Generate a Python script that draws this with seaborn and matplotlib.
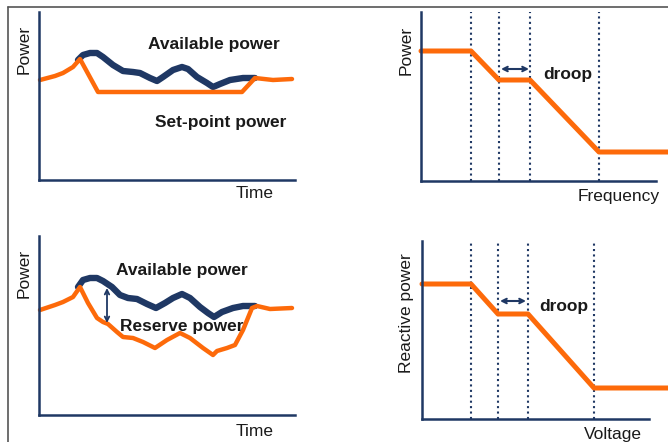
import matplotlib
matplotlib.use("Agg")
import matplotlib.pyplot as plt
from matplotlib.lines import Line2D
import seaborn as sns

sns.set_style("white")
plt.rcParams["font.family"] = ["Liberation Sans", "DejaVu Sans"]

NAVY = "#1f3864"
ORANGE = "#fd6a0a"
TEXT = "#1a1a1a"

W, H = 668, 442

# ---- data ----
# top-left: available vs set-point power over time
t_set1 = [1, 16, 24, 34, 41, 59, 203, 216, 234, 253]
p_set1 = [100, 104, 107, 113, 121, 88, 88, 102, 100, 101]
t_avail1 = [39, 44, 51, 58, 64, 74, 84, 94, 101, 111, 118, 124, 134, 143, 149,
            158, 168, 174, 181, 191, 204, 216]
p_avail1 = [120, 125, 127, 127, 123, 115, 109, 108, 107, 102, 99, 103, 110, 113, 111,
            103, 97, 93, 96, 100, 102, 102]

# bottom-left: available vs reserve-reduced power
t_res = [1, 16, 24, 34, 41, 49, 58, 64, 69, 78, 84, 94, 104, 116, 128, 141, 151,
         164, 174, 178, 188, 196, 204, 213, 218, 231, 253]
p_res = [105, 110, 113, 118, 128, 112, 97, 93, 91, 83, 78, 77, 73, 67, 75, 82, 77,
         67, 60, 64, 67, 70, 85, 107, 109, 106, 107]
t_avail2 = [39, 44, 51, 58, 64, 73, 81, 89, 98, 108, 117, 126, 134, 143, 151, 161,
            169, 175, 183, 194, 204, 216]
p_avail2 = [128, 135, 137, 137, 134, 128, 120, 117, 116, 111, 107, 112, 117, 121, 117, 108,
            102, 98, 103, 107, 109, 109]

# top-right: power vs frequency droop
freq = [0, 50, 78, 109, 178, 247]
power_f = [130, 130, 101, 101, 29, 29]
freq_marks = [50, 78, 109, 178]

# bottom-right: reactive power vs voltage droop
volt = [0, 49, 76, 106, 172, 246]
q_v = [135, 135, 105, 105, 31, 31]
volt_marks = [49, 76, 106, 172]

fig = plt.figure(figsize=(W / 100, H / 100), dpi=100)


def add_ax(left, right, top, bottom):
    ax = fig.add_axes([left / W, 1 - bottom / H, (right - left) / W, (bottom - top) / H])
    ax.patch.set_alpha(0)
    for s in ["top", "right"]:
        ax.spines[s].set_visible(False)
    for s in ["left", "bottom"]:
        ax.spines[s].set_color(NAVY)
        ax.spines[s].set_linewidth(1.8)
    return ax


def finish(ax):
    ax.set_xticks([])
    ax.set_yticks([])
    ax.set_xlabel("")
    ax.set_ylabel("")


def label(x, y, s, rot=0, bold=False, size=12.5):
    fig.text(x / W, 1 - y / H, s, rotation=rot, ha="center", va="center",
             color=TEXT, fontsize=size, fontweight="bold" if bold else "normal")


def line(ax, x, y, color, lw):
    sns.lineplot(x=x, y=y, ax=ax, color=color, linewidth=lw, estimator=None,
                 sort=False, solid_joinstyle="round", solid_capstyle="round",
                 clip_on=False)


def droop_arrow(ax, x0, x1, y):
    ax.annotate("", xy=(x0, y), xytext=(x1, y),
                arrowprops=dict(arrowstyle="<->", color=NAVY, lw=1.5,
                                mutation_scale=8, shrinkA=0, shrinkB=0))


# top-left
ax1 = add_ax(39, 295, 12, 180)
ax1.set_xlim(0, 256)
ax1.set_ylim(0, 168)
line(ax1, t_avail1, p_avail1, NAVY, 4.6)
line(ax1, t_set1, p_set1, ORANGE, 3.2)
finish(ax1)

# bottom-left
ax3 = add_ax(39, 295, 236, 415)
ax3.set_xlim(0, 256)
ax3.set_ylim(0, 179)
line(ax3, t_avail2, p_avail2, NAVY, 4.6)
line(ax3, t_res, p_res, ORANGE, 3.2)
ax3.annotate("", xy=(68, 92), xytext=(68, 127),
             arrowprops=dict(arrowstyle="<->", color=NAVY, lw=1.3,
                             mutation_scale=8, shrinkA=0, shrinkB=0))
finish(ax3)

# top-right
ax2 = add_ax(421, 668, 12, 181)
ax2.set_xlim(0, 247)
ax2.set_ylim(0, 169)
ax2.spines["bottom"].set_bounds(0, 235)
for xm in freq_marks:
    ax2.axvline(xm, color=NAVY, lw=1.5, linestyle=(0, (1, 1.6)))
line(ax2, freq, power_f, ORANGE, 3.6)
droop_arrow(ax2, 80, 108, 112)
finish(ax2)

# bottom-right
ax4 = add_ax(422, 668, 241, 419)
ax4.set_xlim(0, 246)
ax4.set_ylim(0, 178)
ax4.spines["bottom"].set_bounds(0, 227)
for xm in volt_marks:
    ax4.axvline(xm, color=NAVY, lw=1.5, linestyle=(0, (1, 1.6)))
line(ax4, volt, q_v, ORANGE, 3.6)
droop_arrow(ax4, 78, 104, 118)
finish(ax4)

# texts
label(24, 49, "Power", rot=90)
label(255, 194, "Time")
label(214, 44, "Available power", bold=True)
label(221, 122, "Set-point power", bold=True)

label(24, 273, "Power", rot=90)
label(255, 431, "Time")
label(182, 270, "Available power", bold=True)
label(182, 326, "Reserve power", bold=True)

label(406, 50, "Power", rot=90)
label(619, 197, "Frequency")
label(568, 74, "droop", bold=True)

label(407, 313, "Reactive power", rot=90)
label(613, 435, "Voltage")
label(564, 307, "droop", bold=True)

# thin frame lines at the top and left edge
fig.add_artist(Line2D([8 / W, 1], [1 - 7 / H, 1 - 7 / H], color="#555555", lw=1.2))
fig.add_artist(Line2D([8 / W, 8 / W], [0, 1 - 7 / H], color="#555555", lw=1.2))

fig.savefig("out.png", dpi=100)
